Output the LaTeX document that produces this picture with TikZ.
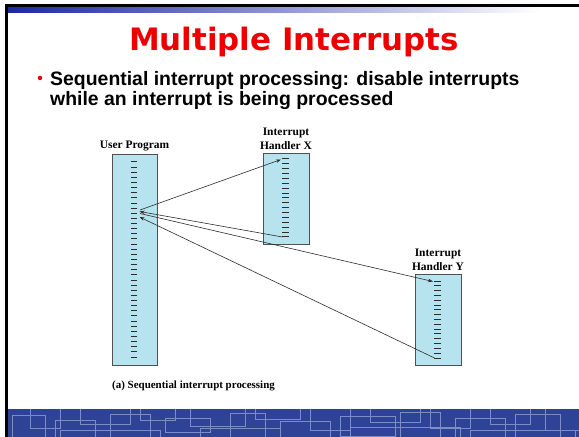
\documentclass[tikz,border=0pt]{standalone}
\usepackage{fontspec}
\setmainfont{Liberation Serif}
\newfontfamily\titlefont{DejaVu Sans}
\newfontfamily\slidefont{Liberation Sans}
\usepackage{tikz}
\usetikzlibrary{arrows.meta,positioning,calc}
\definecolor{slideRed}{RGB}{238, 0, 0}
\definecolor{barBlue}{RGB}{28, 40, 165}
\definecolor{bandBlue}{RGB}{46, 67, 150}
\definecolor{bandLine}{RGB}{125, 140, 198}
\definecolor{boxBlue}{RGB}{183, 227, 238}
\definecolor{boxEdge}{RGB}{80, 80, 80}
\definecolor{lineGray}{RGB}{45, 45, 45}

\begin{document}
\begin{tikzpicture}[x=1bp, y=-1bp,
        prog/.style={rectangle, draw=boxEdge, fill=boxBlue, line width=0.9bp, inner sep=0pt, minimum width=45bp, minimum height=211bp},
        handler/.style={prog, minimum width=46bp, minimum height=91bp},
        headText/.style={font=\fontsize{11.5}{14}\selectfont\bfseries, align=center, inner sep=0pt},
        bulletText/.style={font=\slidefont\fontsize{19.5}{20}\selectfont\bfseries, anchor=base west, inner sep=0pt},
        codeline/.style={line width=1bp, lineGray},
        flow/.style={lineGray, line width=0.6bp, -{Stealth[length=5bp, width=3.5bp]}},
    ]
        \useasboundingbox (0,0) rectangle (579,437);
        \fill[white] (0,0) rectangle (579,437);

        % Slide frame
        \fill[black] (6,4.5) rectangle (579,7.5);
        \fill[black] (5,4.5) rectangle (8,437);
        \shade[left color=barBlue, right color=white] (8,7.5) rectangle (540,12.7);

        % Bottom band
        \begin{scope}
            \clip (8,409) rectangle (579,437);
            \fill[bandBlue] (8,409) rectangle (579,437);
            \foreach \xa/\ya/\xb/\yb in {12/415/45/440, 30/404/60/428, 55/420/95/445, 80/406/130/424,
                110/414/150/440, 140/402/175/420, 165/418/210/432, 190/405/245/426, 230/413/265/445,
                255/400/300/419, 280/421/330/440, 310/408/350/430, 340/416/395/436, 370/403/420/422,
                400/412/440/445, 430/405/470/428, 455/418/505/438, 490/402/530/424, 515/414/560/440,
                545/406/590/430, 60/430/160/450, 200/428/280/450, 350/427/460/450, 470/430/575/450} {
                \draw[bandLine, line width=1bp] (\xa,\ya) rectangle (\xb,\yb);
            }
        \end{scope}

        % Title and bullet
        \node[font=\titlefont\fontsize{31}{36}\selectfont\bfseries, text=slideRed, anchor=base, inner sep=0pt] (title) at (294,51) {Multiple Interrupts};
        \node[circle, fill=slideRed, inner sep=0pt, minimum size=4.5bp] (dot) at (40,78) {};
        \node[bulletText] (point1) at (50,85.5) {Sequential interrupt processing: disable interrupts};
        \node[bulletText] (point2) at (50,106) {while an interrupt is being processed};

        % Programs
        \node[prog] (user) at (134.5,259.5) {};
        \node[handler] (handlerX) at (286,198.5) {};
        \node[handler] (handlerY) at (438,319.5) {};

        \node[headText, above=2bp of user] (userLbl) {User Program};
        \node[headText, above=3bp of handlerX] (xLbl) {Interrupt\\Handler X};
        \node[headText, above=3bp of handlerY] (yLbl) {Interrupt\\Handler Y};

        % Instructions
        \foreach \i in {0,...,38} {
            \draw[codeline] (131,162+\i*5.1316) -- (137,162+\i*5.1316);
        }
        \foreach \i in {0,...,16} {
            \draw[codeline] (282,159+\i*4.875) -- (289,159+\i*4.875);
            \draw[codeline] (434,281+\i*4.8125) -- (441,281+\i*4.8125);
        }

        % Transfer points
        \coordinate (uOutX) at (140,210);
        \coordinate (uBackX) at (139.5,211.5);
        \coordinate (uOutY) at (140,213.5);
        \coordinate (uBackY) at (139.5,217);
        \coordinate (xStart) at (281,159.5);
        \coordinate (xEnd) at (282.5,237);
        \coordinate (yStart) at (433,281.5);
        \coordinate (yEnd) at (434.5,358);

        \draw[flow] (uOutX) -- (xStart);
        \draw[flow] (xEnd) -- (uBackX);
        \draw[flow] (uOutY) -- (yStart);
        \draw[flow] (yEnd) -- (uBackY);

        \node[font=\fontsize{11}{13}\selectfont\bfseries, anchor=base west, inner sep=0pt] (caption) at (112,388) {(a) Sequential interrupt processing};
    \end{tikzpicture}
\end{document}
